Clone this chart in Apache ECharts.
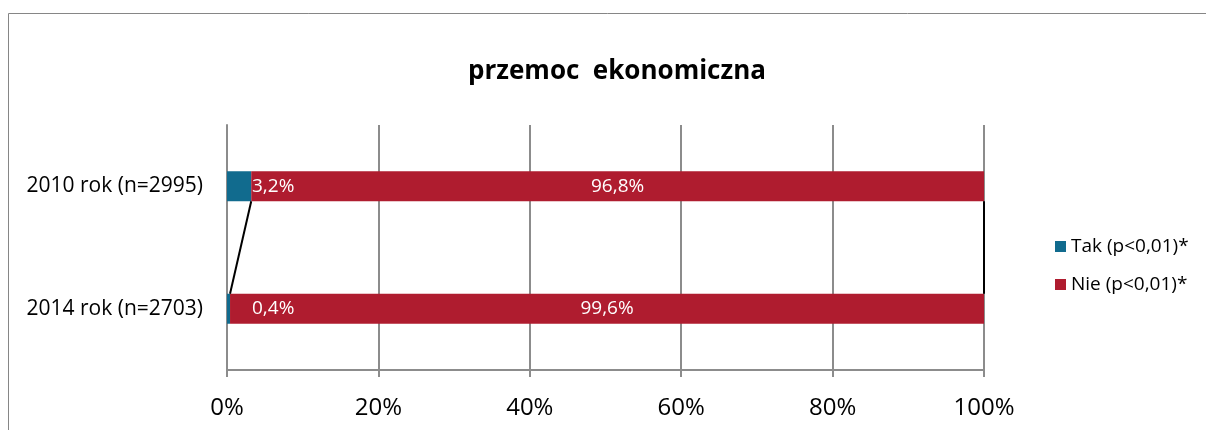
<!DOCTYPE html>
<html><head><meta charset="utf-8">
<script src="https://cdn.jsdelivr.net/npm/echarts@6/dist/echarts.min.js"></script>
<style>html,body{margin:0;padding:0;background:#fff}#c{width:1206px;height:430px}</style>
</head><body><div id="c"></div>
<script>
const categories = ['2010 rok (n=2995)', '2014 rok (n=2703)'];
const seriesNames = ['Tak (p<0,01)*', 'Nie (p<0,01)*'];
const takValues = [3.2, 0.4];
const nieValues = [96.8, 99.6];
const xTicks = [0, 20, 40, 60, 80, 100];
const title = 'przemoc  ekonomiczna';

const fmt = v => String(v).replace('.', ',') + '%';
const FONT = 'Open Sans';
const chart = echarts.init(document.getElementById('c'));

const boundaries = [
  [takValues[0], takValues[1]],
  [takValues[0] + nieValues[0], takValues[1] + nieValues[1]]
];

chart.setOption({
  animation: false,
  textStyle: { fontFamily: FONT },
  graphic: [{
    type: 'rect', silent: true, z: -10,
    shape: { x: 8.5, y: 13.5, width: 1260, height: 500 },
    style: { fill: 'none', stroke: '#868686', lineWidth: 1 }
  }],
  title: {
    text: title, left: 612, top: 54, textAlign: 'center',
    textStyle: { fontFamily: FONT, fontWeight: 'bold', fontSize: 26, color: '#000' }
  },
  legend: {
    orient: 'vertical', left: 1050, top: 232,
    itemWidth: 11, itemHeight: 11, itemGap: 19, icon: 'rect',
    data: seriesNames,
    textStyle: { fontFamily: FONT, fontSize: 19, color: '#000', padding: [0, 0, 0, 0] }
  },
  grid: { left: 227, right: 222, top: 125, bottom: 60 },
  xAxis: {
    type: 'value', min: xTicks[0], max: xTicks[xTicks.length - 1], interval: 20,
    axisLine: { show: true, lineStyle: { color: '#8c8c8c', width: 2 } },
    axisTick: { show: true, length: 7, lineStyle: { color: '#8c8c8c', width: 2 } },
    splitLine: { show: true, lineStyle: { color: '#8c8c8c', width: 2 } },
    axisLabel: { formatter: '{value}%', fontSize: 24, color: '#000', margin: 26, fontFamily: FONT }
  },
  yAxis: {
    type: 'category', data: categories, inverse: true,
    axisLine: { show: true, lineStyle: { color: '#8c8c8c', width: 2 } },
    axisTick: { show: false },
    axisLabel: { fontSize: 21, color: '#000', margin: 24, fontFamily: FONT }
  },
  series: [
    {
      name: seriesNames[0], type: 'bar', stack: 's', barWidth: 30, data: takValues,
      itemStyle: { color: '#116B8E' },
      label: {
        show: true, position: [25, 15], align: 'left', verticalAlign: 'middle',
        formatter: p => fmt(p.value), color: '#fff', fontSize: 19, fontFamily: FONT
      }
    },
    {
      name: seriesNames[1], type: 'bar', stack: 's', barWidth: 30, data: nieValues,
      itemStyle: { color: '#AF1C2F' },
      label: {
        show: true, position: 'inside',
        formatter: p => fmt(p.value), color: '#fff', fontSize: 19, fontFamily: FONT
      }
    },
    {
      type: 'custom', silent: true, z: 5, data: boundaries,
      renderItem: (params, api) => {
        const a = api.coord([api.value(0), 0]);
        const b = api.coord([api.value(1), 1]);
        return {
          type: 'line',
          shape: { x1: a[0], y1: a[1] + 15, x2: b[0], y2: b[1] - 15 },
          style: { stroke: '#000', lineWidth: 2 }
        };
      },
      encode: { x: [0, 1] }
    }
  ]
});
</script></body></html>
